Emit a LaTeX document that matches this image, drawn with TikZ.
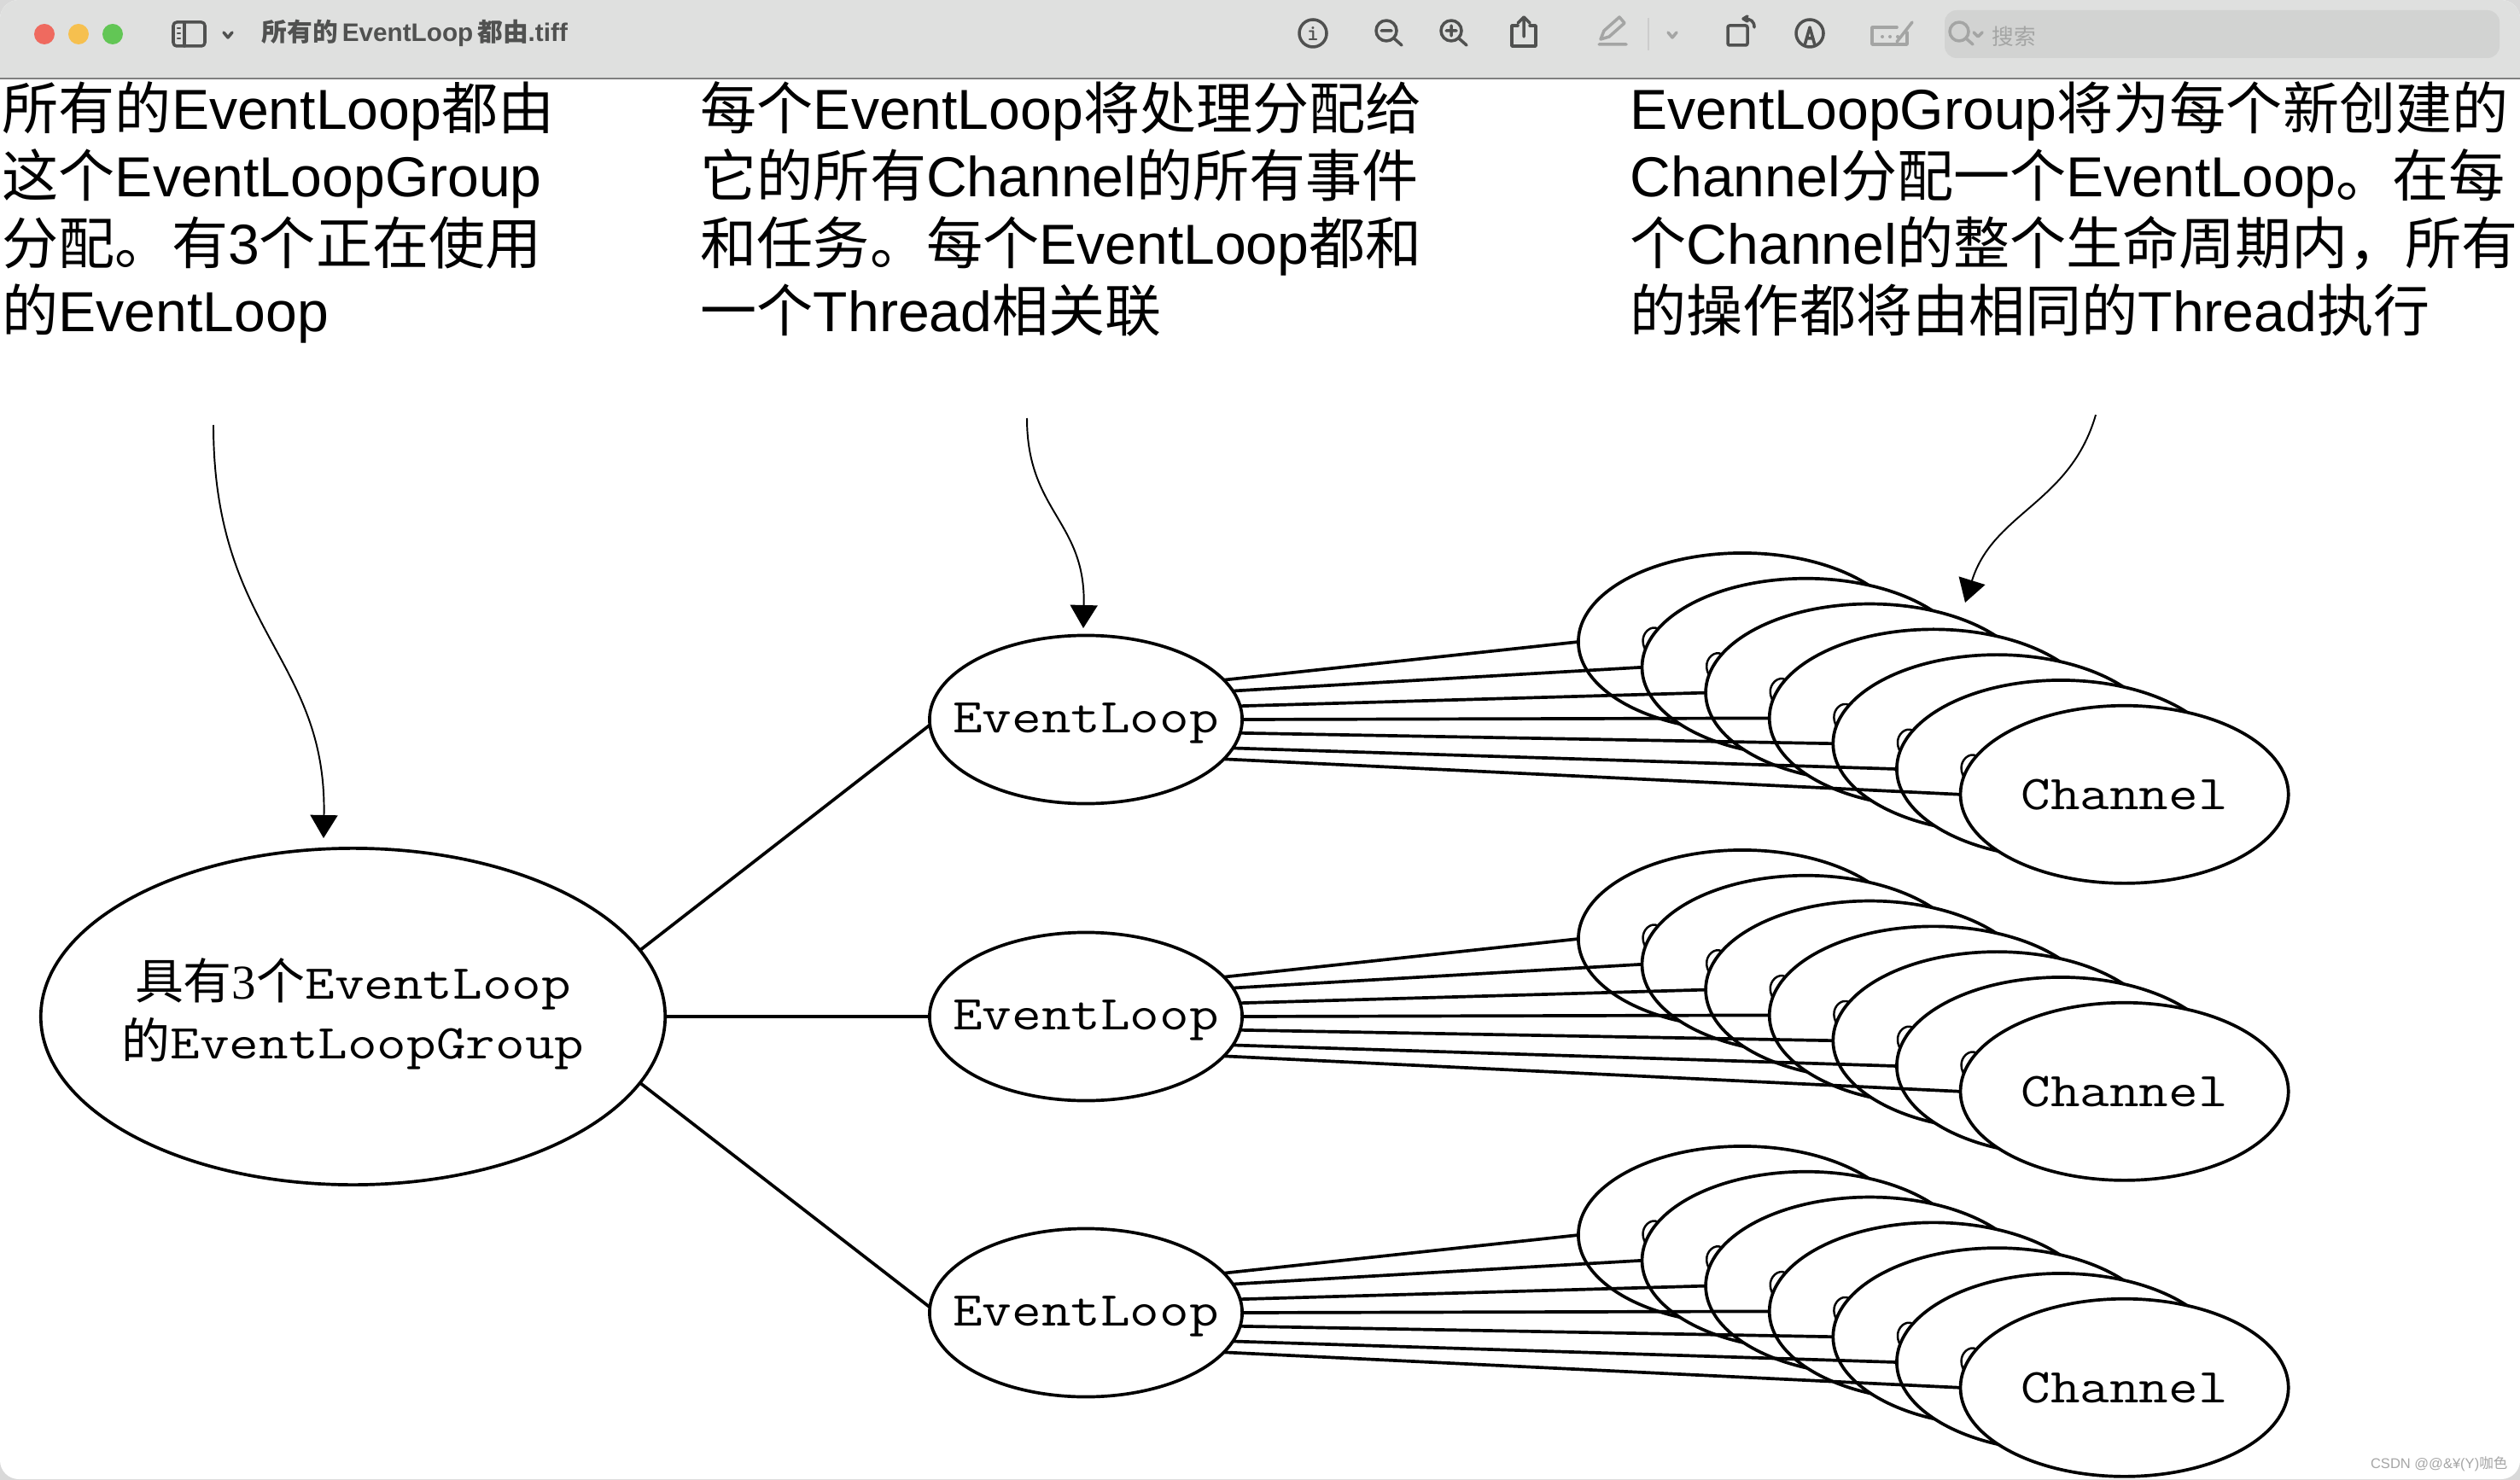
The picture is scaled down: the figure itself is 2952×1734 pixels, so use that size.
\documentclass[tikz,border=0pt]{standalone}
\usepackage{fontspec}
\usepackage{graphicx}
\usetikzlibrary{shapes.geometric,arrows.meta}
\setmainfont{Liberation Sans}
\newfontfamily\cjk{Noto Sans CJK SC}
\newfontfamily\serifnum{Liberation Serif}
\newcommand\cn[1]{{\cjk #1}}
\newcommand\mono[1]{\scalebox{1.18}[1]{\ttfamily #1}}
\newcommand\zerobox[2][0pt]{\smash{\makebox[0pt][c]{\raisebox{#1}{#2}}}}
\definecolor{barbg}{HTML}{DFE0DF}
\definecolor{icondark}{HTML}{505150}
\definecolor{icongray}{HTML}{A4A5A4}
\definecolor{searchbg}{HTML}{D2D3D2}
\definecolor{lightred}{HTML}{EF6A5F}
\definecolor{lightyellow}{HTML}{F6C04F}
\definecolor{lightgreen}{HTML}{62C655}
\tikzset{
  oval/.style={draw=black,fill=white,ellipse,inner sep=0pt,outer sep=0pt,line width=1.05pt,align=center,
     font=\fontsize{16.2pt}{19.9pt}\selectfont},
  groupoval/.style={oval,minimum width=7.31cm,minimum height=3.94cm},
  loopoval/.style={oval,minimum width=3.66cm,minimum height=1.97cm},
  chanoval/.style={oval,minimum width=3.84cm,minimum height=2.08cm},
  link/.style={line width=1.05pt,draw=black},
  note/.style={anchor=north west,inner sep=0pt,align=left,font=\fontsize{18.8pt}{22.45pt}\selectfont,text=black},
  curvearrow/.style={line width=0.55pt,-{Triangle[length=0.27cm,width=0.32cm]}},
  drop/.style={line width=0.7pt},
  ictk/.style={draw=icondark,line width=1.0pt,line cap=round,line join=round},
  icthin/.style={draw=icongray,line width=1.0pt,line cap=round,line join=round},
}
\begin{document}
\begin{tikzpicture}[x=0.01cm,y=-0.01cm]
\useasboundingbox (0,0) rectangle (2952,1734);
\fill[black!15] (0,0) rectangle (2952,1734);
\begin{scope}
\clip[rounded corners=0.22cm] (0,0) rectangle (2952,1733);
\fill[white] (0,0) rectangle (2952,1734);
\fill[barbg] (0,0) rectangle (2952,92);
\draw[black!50,line width=0.7pt] (0,92) -- (2952,92);
\end{scope}
% traffic lights
\fill[lightred] (52,40) circle[x radius=12,y radius=12];
\fill[lightyellow] (92,40) circle[x radius=12,y radius=12];
\fill[lightgreen] (132,40) circle[x radius=12,y radius=12];
% sidebar icon
\draw[ictk,rounded corners=0.04cm] (203,26) rectangle (240,54);
\draw[ictk] (216,26) -- (216,54);
\draw[ictk,line width=0.6pt] (208,33) -- (211,33) (208,39) -- (211,39) (208,45) -- (211,45);
\draw[ictk] (262,38) -- (267,44) -- (272,38);
\node[anchor=west,inner sep=0pt,text=icondark,font=\fontsize{8.45pt}{10pt}\selectfont\bfseries] (title) at (306,39) {{\cjk\bfseries 所有的}\,EventLoop\,{\cjk\bfseries 都由}.tiff};
% toolbar
\draw[ictk] (1538,39) circle[x radius=16,y radius=16];
\node[inner sep=0pt,text=icondark,font=\fontsize{7.5pt}{8pt}\selectfont\bfseries\ttfamily] (infoi) at (1538,40) {i};
\draw[ictk] (1624,36) circle[x radius=12,y radius=12] (1633,45) -- (1642,53) (1618,36) -- (1630,36);
\draw[ictk] (1700,36) circle[x radius=12,y radius=12] (1709,45) -- (1718,53) (1694,36) -- (1706,36) (1700,30) -- (1700,42);
\draw[ictk] (1778,30) -- (1771,30) -- (1771,54) -- (1799,54) -- (1799,30) -- (1792,30);
\draw[ictk] (1785,43) -- (1785,21) (1778,27) -- (1785,20) -- (1792,27);
\draw[icthin] (1873,52) -- (1905,52) (1875,46) -- (1879,36) -- (1897,20) -- (1903,27) -- (1885,43) -- cycle;
\draw[draw=black!20,line width=0.6pt] (1931,21) -- (1931,59);
\draw[icthin] (1954,38) -- (1959,44) -- (1964,38);
\draw[ictk,rounded corners=0.02cm] (2024,30) rectangle (2047,53);
\draw[ictk] (2055,32) .. controls (2055,25) and (2051,22) .. (2043,22) (2047,19) -- (2042,22) -- (2047,25);
\draw[ictk] (2120,39) circle[x radius=16,y radius=16];
\draw[ictk] (2114,53) -- (2120,32) -- (2126,53) (2116,45) -- (2124,45);
\draw[icthin] (2222,32) -- (2193,32) -- (2193,52) -- (2234,52) -- (2234,38);
\draw[icthin] (2222,49) -- (2240,26);
\fill[icongray] (2205,43) circle[x radius=2,y radius=2] (2214,43) circle[x radius=2,y radius=2] (2223,43) circle[x radius=2,y radius=2];
\fill[searchbg,rounded corners=0.14cm] (2278,12) rectangle (2928,68);
\draw[icthin] (2295,37) circle[x radius=11,y radius=11] (2303,45) -- (2311,52) (2312,38) -- (2317,43) -- (2322,38);
\node[anchor=west,inner sep=0pt,text=icongray,font=\fontsize{7.3pt}{9pt}\selectfont] (search) at (2333,43) {\cn{搜索}};
% notes
\node[note] (n1) at (2,95) {\cn{所有的}EventLoop\cn{都由}\\\cn{这个}EventLoopGroup\\\cn{分配。有}3\cn{个正在使用}\\\cn{的}EventLoop};
\node[note] (n2) at (820,95) {\cn{每个}EventLoop\cn{将处理分配给}\\\cn{它的所有}Channel\cn{的所有事件}\\\cn{和任务。每个}EventLoop\cn{都和}\\\cn{一个}Thread\cn{相关联}};
\node[note] (n3) at (1909,95) {EventLoopGroup\cn{将为每个新创建的}\\Channel\cn{分配一个}EventLoop\cn{。在每}\\\cn{个}Channel\cn{的整个生命周期内，所有}\\\cn{的操作都将由相同的}Thread\cn{执行}};
% group
\node[groupoval] (group) at (413.5,1191) {\zerobox[-4.2pt]{\cn{具有}{\serifnum 3}\cn{个}\mono{EventLoop}}\\\zerobox[-4.2pt]{\cn{的}\mono{EventLoopGroup}}};
% event loops and channels
\foreach \r/\ry in {1/843,2/1191,3/1538}{
  \node[loopoval] (el\r) at (1272,\ry) {\zerobox[-4.5pt]{\mono{EventLoop}}};
  \foreach \k in {1,...,7}{
    \pgfmathsetmacro\cx{2041+74.6*(\k-1)}
    \pgfmathsetmacro\cy{\ry-91+29.8*(\k-1)}
    \ifnum\k>1
      \draw[drop] (\cx-173,\cy-45) .. controls (\cx-182,\cy-50) and (\cx-192,\cy-40) .. (\cx-191,\cy-30) .. controls (\cx-191,\cy-26) and (\cx-189,\cy-22) .. (\cx-187,\cy-18);
    \fi
    \ifnum\k=7
      \node[chanoval] (ch\r\k) at (\cx,\cy) {\mono{Channel}};
    \else
      \node[chanoval] (ch\r\k) at (\cx,\cy) {};
    \fi
  }
  \draw[link] (el\r.16) -- (ch\r1.west);
  \draw[link] (el\r.11) -- (ch\r2.west);
  \draw[link] (el\r.5) -- (ch\r3.west);
  \draw[link] (el\r.0) -- (ch\r4.west);
  \draw[link] (el\r.-5) -- (ch\r5.west);
  \draw[link] (el\r.-11) -- (ch\r6.west);
  \draw[link] (el\r.-16) -- (ch\r7.west);
}
\draw[link] (group.13) -- (el1.182);
\draw[link] (group.0) -- (el2.180);
\draw[link] (group.-13) -- (el3.178);
% arrows
\coordinate (a1s) at (250,498);
\coordinate (a1e) at (379,982);
\coordinate (a2s) at (1203,490);
\coordinate (a2e) at (1269,736);
\coordinate (a3s) at (2455,486);
\coordinate (a3e) at (2302,706);
\draw[curvearrow] (a1s) .. controls (250,740) and (383,770) .. (a1e);
\draw[curvearrow] (a2s) .. controls (1203,600) and (1272,610) .. (a2e);
\draw[curvearrow] (a3s) .. controls (2425,590) and (2335,600) .. (a3e);
% watermark
\node[anchor=east,inner sep=0pt,text=black!35,font=\fontsize{4.7pt}{7pt}\selectfont] (mark) at (2938,1715) {CSDN @@\&¥(Y)\cn{咖色}};
\end{tikzpicture}
\end{document}
